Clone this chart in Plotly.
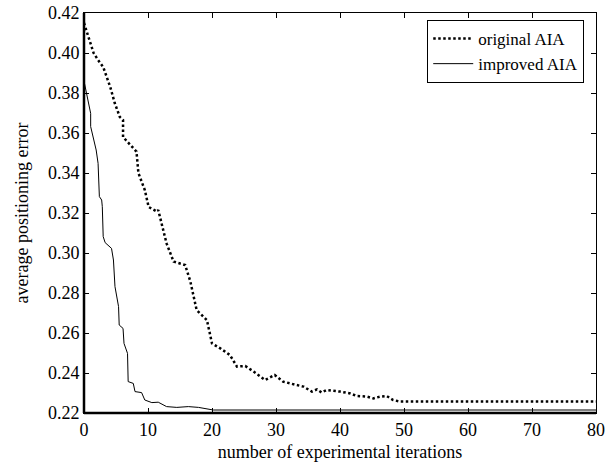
import plotly.graph_objects as go

# original AIA (dotted)
orig_x = [0, 1.5, 2.2, 3.0, 4.1, 4.8, 5.6, 6.1, 6.1, 6.9, 8.2, 8.5, 9.0, 9.5, 10.1, 11.4, 11.6,
          12.9, 14.0, 15.8, 16.6, 17.6, 19.2, 20.0, 21.3, 22.8, 23.9, 25.2, 26.5, 28.3, 29.8,
          31.1, 33.2, 34.3, 35.6, 36.4, 37.1, 37.9, 40.0, 41.6, 42.6, 44.2, 45.2, 46.3, 47.3,
          48.3, 49.4, 80]
orig_y = [0.415, 0.400, 0.3965, 0.393, 0.383, 0.375, 0.368, 0.3665, 0.358, 0.355, 0.3507, 0.340,
          0.3357, 0.3315, 0.323, 0.3207, 0.3215, 0.3048, 0.2957, 0.294, 0.286, 0.2715, 0.2665,
          0.2548, 0.2523, 0.249, 0.2432, 0.2435, 0.2407, 0.2365, 0.239, 0.2357, 0.234, 0.2332,
          0.2307, 0.2318, 0.2303, 0.2315, 0.2307, 0.2298, 0.2285, 0.2282, 0.2273, 0.2282,
          0.2285, 0.2265, 0.2257, 0.2257]

# improved AIA (solid)
impr_x = [0, 0.67, 1.04, 1.04, 1.46, 1.9, 2.2, 2.4, 2.76, 2.86, 3.0, 3.3, 4.3, 4.6, 4.84, 5.4,
          5.5, 6.1, 6.25, 6.8, 6.9, 7.7, 7.97, 9.0, 9.5, 10.6, 11.6, 12.9, 14.5, 16.3, 17.9,
          19.2, 20.2, 80]
impr_y = [0.386, 0.3765, 0.3698, 0.3632, 0.3582, 0.3515, 0.3448, 0.3282, 0.3265, 0.3232, 0.3082,
          0.3052, 0.3023, 0.2965, 0.2832, 0.2732, 0.264, 0.2623, 0.2548, 0.2498, 0.2357, 0.2348,
          0.2307, 0.2302, 0.2265, 0.2252, 0.2254, 0.2232, 0.2228, 0.2232, 0.2228, 0.222,
          0.2215, 0.2215]

x_ticks = [0, 10, 20, 30, 40, 50, 60, 70, 80]
y_ticks = [0.22, 0.24, 0.26, 0.28, 0.30, 0.32, 0.34, 0.36, 0.38, 0.40, 0.42]

FONT = "Liberation Serif, Times New Roman, serif"

fig = go.Figure()
fig.add_trace(go.Scatter(x=orig_x, y=orig_y, mode="lines", name="original AIA",
                         line=dict(color="black", width=2.5, dash="2.5px,2.5px")))
fig.add_trace(go.Scatter(x=impr_x, y=impr_y, mode="lines", name="improved AIA",
                         line=dict(color="black", width=1)))

axis_common = dict(showgrid=False, zeroline=False, showline=True, linecolor="black",
                   linewidth=1, mirror="ticks", ticks="inside", ticklen=5, tickwidth=1,
                   tickcolor="black", automargin=False,
                   tickfont=dict(family=FONT, size=18, color="black"))

fig.update_xaxes(range=[0, 80], tickvals=x_ticks, ticktext=[str(v) for v in x_ticks],
                 title=dict(text="number of experimental iterations", standoff=8,
                            font=dict(family=FONT, size=18, color="black")),
                 **axis_common)
fig.update_yaxes(range=[0.22, 0.42], tickvals=y_ticks, ticktext=[f"{v:.2f}" for v in y_ticks],
                 title=dict(text="average positioning error", standoff=14,
                            font=dict(family=FONT, size=18, color="black")),
                 **axis_common)

# thicker left and bottom axes (MATLAB look)
fig.add_shape(type="line", xref="paper", yref="paper", x0=0, x1=0, y0=0, y1=1,
              line=dict(color="black", width=2.5))
fig.add_shape(type="line", xref="paper", yref="paper", x0=0, x1=1, y0=0, y1=0,
              line=dict(color="black", width=2.5))

fig.update_layout(
    width=616, height=462,
    margin=dict(l=84, r=20, t=13, b=49),
    plot_bgcolor="white", paper_bgcolor="white",
    font=dict(family=FONT, size=18, color="black"),
    showlegend=True,
    legend=dict(x=0.977, y=0.9825, xanchor="right", yanchor="top",
                bordercolor="black", borderwidth=1, bgcolor="white",
                font=dict(family=FONT, size=17, color="black"),
                tracegroupgap=0, itemwidth=40),
)

fig.write_html("out.html")
